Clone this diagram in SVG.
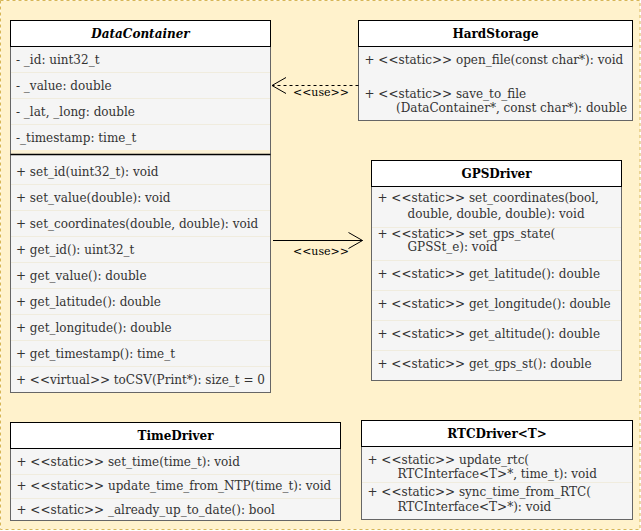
<svg xmlns="http://www.w3.org/2000/svg" width="641" height="531" viewBox="0 0 641 531">
<defs>
<style>
.t{font-family:"DejaVu Serif","Liberation Serif",serif;font-size:12px;fill:#333333}
.h{font-family:"DejaVu Serif","Liberation Serif",serif;font-size:12px;font-weight:bold;fill:#000000;text-anchor:middle}
.lbl{font-family:"DejaVu Serif","Liberation Serif",serif;font-size:11px;fill:#000000;text-anchor:middle}
.hd{fill:#ffffff;stroke:#000000;stroke-width:1}
.bd{fill:#f5f5f5;stroke:#666666;stroke-width:1}
.sep{stroke:#f0ecde;stroke-width:1}
</style>
<marker id="open" viewBox="0 0 16 18" refX="15" refY="9" markerWidth="16" markerHeight="18" markerUnits="userSpaceOnUse" orient="auto">
<path d="M1,1 L15,9 L1,17" fill="none" stroke="#000000" stroke-width="1"/>
</marker>
</defs>
<rect x="0.5" y="0.5" width="639.5" height="529" fill="#fff2cc" stroke="#d6b656" stroke-dasharray="3,3"/>

<g id="DataContainer">
<rect class="bd" x="10.5" y="46.5" width="260" height="346"/>
<rect x="11" y="150" width="259" height="4" fill="#fbf1d6"/>
<line class="sep" x1="11" y1="72.5" x2="270" y2="72.5"/>
<line class="sep" x1="11" y1="98.5" x2="270" y2="98.5"/>
<line class="sep" x1="11" y1="124.5" x2="270" y2="124.5"/>
<line class="sep" x1="11" y1="184.5" x2="270" y2="184.5"/>
<line class="sep" x1="11" y1="210.5" x2="270" y2="210.5"/>
<line class="sep" x1="11" y1="236.5" x2="270" y2="236.5"/>
<line class="sep" x1="11" y1="262.5" x2="270" y2="262.5"/>
<line class="sep" x1="11" y1="288.5" x2="270" y2="288.5"/>
<line class="sep" x1="11" y1="314.5" x2="270" y2="314.5"/>
<line class="sep" x1="11" y1="340.5" x2="270" y2="340.5"/>
<line class="sep" x1="11" y1="366.5" x2="270" y2="366.5"/>
<line x1="10.5" y1="154.5" x2="270.5" y2="154.5" stroke="#000000" stroke-width="1.5"/>
<rect class="hd" x="10.5" y="20.5" width="260" height="26"/>
<text class="h" x="140.5" y="37.5" font-style="italic">DataContainer</text>
<text class="t" x="16" y="63.5">- _id: uint32_t</text>
<text class="t" x="16" y="89.5">- _value: double</text>
<text class="t" x="16" y="115.5">- _lat, _long: double</text>
<text class="t" x="16" y="141.5">-_timestamp: time_t</text>
<text class="t" x="16" y="175.5">+ set_id(uint32_t): void</text>
<text class="t" x="16" y="201.5">+ set_value(double): void</text>
<text class="t" x="16" y="227.5">+ set_coordinates(double, double): void</text>
<text class="t" x="16" y="253.5">+ get_id(): uint32_t</text>
<text class="t" x="16" y="279.5">+ get_value(): double</text>
<text class="t" x="16" y="305.5">+ get_latitude(): double</text>
<text class="t" x="16" y="331.5">+ get_longitude(): double</text>
<text class="t" x="16" y="357.5">+ get_timestamp(): time_t</text>
<text class="t" x="16" y="383.5">+ &lt;&lt;virtual&gt;&gt; toCSV(Print*): size_t = 0</text>
</g>

<g id="HardStorage">
<rect class="bd" x="358.5" y="46.5" width="274" height="74"/>
<rect class="hd" x="358.5" y="20.5" width="274" height="26"/>
<text class="h" x="495.5" y="38">HardStorage</text>
<text class="t" x="364.5" y="63.5">+ &lt;&lt;static&gt;&gt; open_file(const char*): void</text>
<text class="t" x="364.5" y="97.5">+ &lt;&lt;static&gt;&gt; save_to_file</text>
<text class="t" x="396" y="111.5">(DataContainer*, const char*): double</text>
</g>

<g id="GPSDriver">
<rect class="bd" x="371.5" y="186.5" width="250" height="194"/>
<line class="sep" x1="372" y1="227.5" x2="621" y2="227.5"/>
<line class="sep" x1="372" y1="260.5" x2="621" y2="260.5"/>
<line class="sep" x1="372" y1="290.5" x2="621" y2="290.5"/>
<line class="sep" x1="372" y1="320.5" x2="621" y2="320.5"/>
<line class="sep" x1="372" y1="350.5" x2="621" y2="350.5"/>
<rect class="hd" x="371.5" y="160.5" width="250" height="26"/>
<text class="h" x="496.5" y="177.5">GPSDriver</text>
<text class="t" x="377.5" y="202">+ &lt;&lt;static&gt;&gt; set_coordinates(bool,</text>
<text class="t" x="407.5" y="217.5">double, double, double): void</text>
<text class="t" x="377.5" y="238">+ &lt;&lt;static&gt;&gt; set_gps_state(</text>
<text class="t" x="407.5" y="251">GPSSt_e): void</text>
<text class="t" x="377.5" y="277.5">+ &lt;&lt;static&gt;&gt; get_latitude(): double</text>
<text class="t" x="377.5" y="307.5">+ &lt;&lt;static&gt;&gt; get_longitude(): double</text>
<text class="t" x="377.5" y="337.5">+ &lt;&lt;static&gt;&gt; get_altitude(): double</text>
<text class="t" x="377.5" y="367.5">+ &lt;&lt;static&gt;&gt; get_gps_st(): double</text>
</g>

<g id="TimeDriver">
<rect class="bd" x="10.5" y="448.5" width="330" height="72"/>
<line class="sep" x1="11" y1="474.5" x2="340" y2="474.5"/>
<line class="sep" x1="11" y1="498.5" x2="340" y2="498.5"/>
<rect class="hd" x="10.5" y="422.5" width="330" height="26"/>
<text class="h" x="175.5" y="440">TimeDriver</text>
<text class="t" x="16.5" y="466">+ &lt;&lt;static&gt;&gt; set_time(time_t): void</text>
<text class="t" x="16.5" y="490">+ &lt;&lt;static&gt;&gt; update_time_from_NTP(time_t): void</text>
<text class="t" x="16.5" y="513.5">+ &lt;&lt;static&gt;&gt; _already_up_to_date(): bool</text>
</g>

<g id="RTCDriver">
<rect class="bd" x="361.5" y="446.5" width="271" height="73"/>
<line class="sep" x1="362" y1="482.5" x2="632" y2="482.5"/>
<rect class="hd" x="361.5" y="420.5" width="271" height="26"/>
<text class="h" x="497" y="438">RTCDriver&lt;T&gt;</text>
<text class="t" x="367.5" y="464">+ &lt;&lt;static&gt;&gt; update_rtc(</text>
<text class="t" x="397.5" y="477.5">RTCInterface&lt;T&gt;*, time_t): void</text>
<text class="t" x="367.5" y="496">+ &lt;&lt;static&gt;&gt; sync_time_from_RTC(</text>
<text class="t" x="397.5" y="511">RTCInterface&lt;T&gt;*): void</text>
</g>

<g id="connectors">
<line x1="358.5" y1="85.5" x2="272" y2="85.5" stroke="#000000" stroke-dasharray="3,3" marker-end="url(#open)"/>
<text class="lbl" x="321" y="95.5">&lt;&lt;use&gt;&gt;</text>
<line x1="273" y1="240.5" x2="362.5" y2="240.5" stroke="#000000" marker-end="url(#open)"/>
<text class="lbl" x="321" y="254.5">&lt;&lt;use&gt;&gt;</text>
</g>
</svg>
